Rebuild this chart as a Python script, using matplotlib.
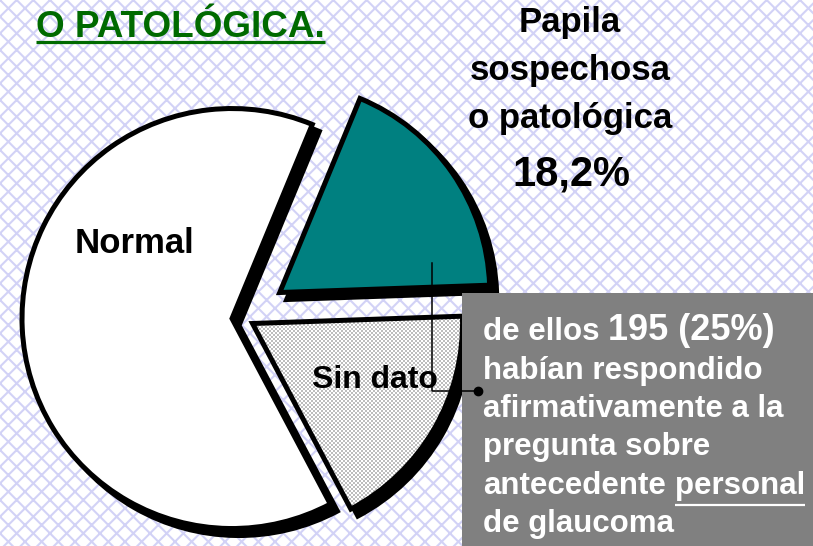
import matplotlib
matplotlib.use("Agg")
import matplotlib.pyplot as plt
import numpy as np
from matplotlib.colors import ListedColormap
from matplotlib.patches import Rectangle

plt.rcParams["font.family"] = ["Liberation Sans", "DejaVu Sans"]
plt.rcParams["hatch.linewidth"] = 1.5

# data
labels = ["Papila sospechosa o patológica", "Normal", "Sin dato"]
values = [18.2, 64.0, 17.8]
explode = [44.7, 11, 11]  # offsets in pixels
colors = ["#008080", "white", "none"]

title = "O PATOLÓGICA."
papila_lines = ["Papila", "sospechosa", "o patológica"]
papila_pct = "18,2%"

# (text, size, underline) pieces per line of the grey note
note_lines = [
    [("de ellos", 22.5, False), ("195 (25%)", 26, False)],
    [("habían respondido", 22.5, False)],
    [("afirmativamente a la", 22.5, False)],
    [("pregunta sobre", 22.5, False)],
    [("antecedente", 22.5, False), ("personal", 22.5, True)],
    [("de glaucoma", 22.5, False)],
]

W, H = 813, 546
fig = plt.figure(figsize=(W / 100, H / 100), dpi=100)
ax = fig.add_axes([0, 0, 1, 1])
renderer = fig.canvas.get_renderer()

# hatched lavender background
ax.add_patch(Rectangle((0, 0), W, H, facecolor="white", edgecolor="#d2d2f6",
                       hatch="xx", linewidth=0, zorder=0))

R = 210
cx, cy = 243, 228
shadow = (7, -7)

# shadow pie
ax.pie(values, explode=explode, radius=R, center=(cx + shadow[0], cy + shadow[1]),
       colors=["black"] * len(values), startangle=2, counterclock=True,
       wedgeprops=dict(edgecolor="black", linewidth=3.6, zorder=1))

# checker fill for "Sin dato"
ny, nx = H // 2, W // 2
checker = np.add.outer(np.arange(ny), np.arange(nx)) % 2
im = ax.imshow(checker, cmap=ListedColormap(["white", "#bdbdbd"]),
               extent=(0, W, 0, H), interpolation="nearest", zorder=1.5)

wedges, _ = ax.pie(values, explode=explode, radius=R, center=(cx, cy),
                   colors=colors, startangle=2, counterclock=True,
                   wedgeprops=dict(edgecolor="black", linewidth=3.6, zorder=2))
for w in wedges:
    w.set_zorder(2)
im.set_clip_path(wedges[2])

ax.set_aspect("auto")
ax.set_xlim(0, W)
ax.set_ylim(0, H)
ax.axis("off")

# slice labels
ax.text(75, H - 253, labels[1], fontsize=25, fontweight="bold", va="baseline",
        ha="left", zorder=3)
ax.text(312, H - 388, labels[2], fontsize=23, fontweight="bold", va="baseline",
        ha="left", zorder=3)

# papila label block
for txt, base in zip(papila_lines, [32, 80, 128]):
    ax.text(570, H - base, txt, fontsize=25, fontweight="bold", ha="center",
            va="baseline", zorder=3)
ax.text(571, H - 185, papila_pct, fontsize=30, fontweight="bold", ha="center",
        va="baseline", zorder=3)

# title, green underlined
t = ax.text(36, H - 37, title, fontsize=26.6, fontweight="bold", color="#006a00",
            ha="left", va="baseline", zorder=3)
bb = t.get_window_extent(renderer)
ax.plot([bb.x0, bb.x1], [H - 42, H - 42], color="#006a00", lw=2.3,
        solid_capstyle="butt", zorder=3)

# grey note box
ax.add_patch(Rectangle((462, 0), W - 462, H - 293, facecolor="#808080",
                       edgecolor="none", zorder=4))

# callout line
ax.plot([432, 432, 478], [H - 263, H - 391, H - 391], color="black", lw=1.1,
        zorder=5)
ax.plot([478], [H - 391], "o", color="black", markersize=6, zorder=5)

baselines = [340, 378.5, 417, 455.5, 494, 532]
for pieces, base in zip(note_lines, baselines):
    x = 483
    y = H - base
    for txt, size, under in pieces:
        t = ax.text(x, y, txt, fontsize=size, fontweight="bold", color="white",
                    ha="left", va="baseline", zorder=6)
        bb = t.get_window_extent(renderer)
        px = size * 100 / 72
        if under:
            ax.plot([bb.x0, bb.x1], [y - 0.36 * px, y - 0.36 * px],
                    color="white", lw=1.6, solid_capstyle="butt", zorder=6)
        x = bb.x1 + 0.28 * px

fig.savefig("out.png", dpi=100)
